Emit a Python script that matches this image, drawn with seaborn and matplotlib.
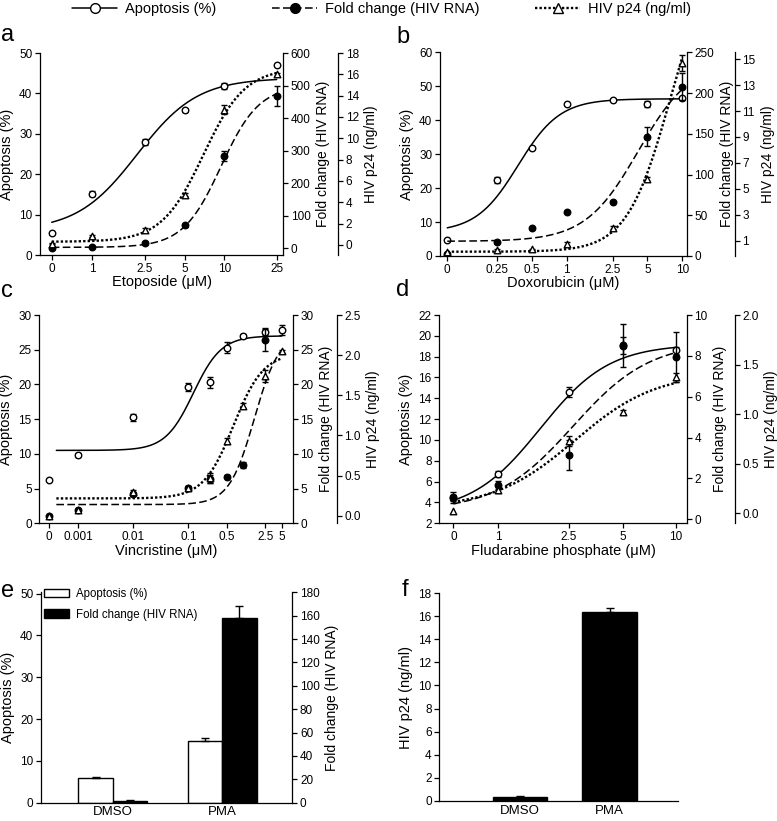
import numpy as np
import pandas as pd
import matplotlib
matplotlib.use("Agg")
import matplotlib.pyplot as plt
import seaborn as sns
from matplotlib.lines import Line2D
from matplotlib.patches import Patch

sns.set_theme(style="ticks", rc={"axes.edgecolor": "black", "xtick.color": "black",
                                 "ytick.color": "black", "text.color": "black",
                                 "axes.labelcolor": "black", "axes.linewidth": 0.9})
plt.rcParams["font.family"] = ["Liberation Sans", "DejaVu Sans"]

nan = np.nan

# ---------------- data ----------------
# a: etoposide
a_dose = [0, 1, 2.5, 5, 10, 25]
a_apop = [5.5, 15.2, 28.0, 35.8, 41.8, 47.1]
a_apop_err = [0.3, 0.6, 0.7, 0.4, 0.8, 0.3]
a_fold = [1, 3, 15, 70, 282, 467]
a_fold_err = [0, 0, 2, 4, 15, 30]
a_p24 = [0.1, 0.85, 1.4, 4.7, 12.7, 16.0]
a_p24_err = [0.05, 0.1, 0.15, 0.15, 0.4, 0.15]
# fitted curves: bottom, top, logEC50, hill slope
a_fit_apop = [6, 43.8, 0.34, 1.9]
a_fit_fold = [2, 500, 0.976, 3.0]
a_fit_p24 = [0.3, 16.6, 0.842, 2.74]

# b: doxorubicin
b_dose = [0, 0.25, 0.5, 1, 2.5, 5, 10]
b_apop = [4.7, 22.4, 31.9, 44.7, 46.0, 44.8, 46.5]
b_apop_err = [0.2, 0.8, 0.3, 0.3, 0.2, 0.8, 0]
b_fold = [2, 17.6, 34, 53.6, 66.7, 146.5, 208]
b_fold_err = [0, 0, 0, 0, 0, 12, 16]
b_p24 = [0.1, 0.28, 0.33, 0.72, 2.0, 5.76, 14.7]
b_p24_err = [0, 0.05, 0.05, 0.15, 0.1, 0.15, 0.6]
b_fit_apop = [7, 46.3, -0.42, 2.4]
b_fit_fold = [18, 240, 0.62, 1.9]
b_fit_p24 = [0.15, 24, 0.9, 2.3]

# c: vincristine
c_dose = [0, 0.001, 0.01, 0.1, 0.25, 0.5, 1, 2.5, 5]
c_tick_dose = [0, 0.001, 0.01, 0.1, 0.5, 2.5, 5]
c_apop = [6.2, 9.8, 15.3, 19.6, 20.3, 25.3, 27.0, 27.6, 27.8]
c_apop_err = [0, 0.3, 0.5, 0.6, 0.8, 0.8, 0.3, 0.5, 0.7]
c_fold = [1.1, 1.9, 4.2, 5.1, 6.4, 6.7, 8.4, 26.4, nan]
c_fold_err = [0, 0, 0.3, 0.3, 0.6, 0.2, 0.4, 1.6, 0]
c_p24 = [0.0, 0.07, 0.29, 0.35, 0.47, 0.93, 1.37, 1.74, 2.05]
c_p24_err = [0, 0, 0.03, 0.02, 0.06, 0.04, 0.03, 0.08, 0.02]
c_fit_apop = [10.5, 27.0, -0.909, 1.71]
c_fit_fold = [2.7, 27.5, 0.2, 1.9]
c_fit_p24 = [0.215, 2.03, -0.18, 1.59]

# d: fludarabine phosphate
d_dose = [0, 1, 2.5, 5, 10]
d_apop = [4.5, 6.74, 14.6, 19.1, 18.6]
d_apop_err = [0.55, 0.3, 0.5, 0.8, 0.3]
d_fold = [1.06, 1.68, 3.15, 8.5, 7.93]
d_fold_err = [0.15, 0.2, 0.75, 1.06, 1.22]
d_p24 = [0.02, 0.24, 0.73, 1.02, 1.37]
d_p24_err = [0, 0.03, 0.05, 0.02, 0.05]
d_fit_apop = [3, 19.2, 0.236, 2.24]
d_fit_fold = [0.4, 8.7, 0.42, 2.0]
d_fit_p24 = [0.05, 1.42, 0.43, 1.9]

# e / f: DMSO vs PMA
e_groups = ["DMSO", "PMA"]
e_series = ["Apoptosis (%)", "Fold change (HIV RNA)"]
e_apop = [5.9, 14.7]
e_apop_err = [0.25, 0.8]
e_fold = [1.7, 158]
e_fold_err = [0.3, 10.5]
f_p24 = [0.35, 16.35]
f_p24_err = [0.1, 0.4]

labels = ["Apoptosis (%)", "Fold change (HIV RNA)", "HIV p24 (ng/ml)"]

# ---------------- helpers ----------------
W, H = 777, 821
fig = plt.figure(figsize=(W / 100, H / 100), dpi=100)


def rect(l, t, r, b):
    return [l / W, 1 - b / H, (r - l) / W, (b - t) / H]


def logistic(x, p):
    b, t, m, h = p
    return b + (t - b) / (1 + 10 ** ((m - x) * h))


def xpos(doses, zero):
    return np.array([zero if d == 0 else np.log10(d) for d in doses])


def fmt_dose(d):
    return "{:g}".format(d)


def bar_errors(ax, err, cap=3):
    # error bars (upper side only) on top of the drawn bars
    bars = [p for cont in ax.containers for p in cont if np.isfinite(p.get_height())]
    if len(bars) != len(err):
        return
    cx = [p.get_x() + p.get_width() / 2 for p in bars]
    hy = [p.get_height() for p in bars]
    ax.errorbar(cx, hy, yerr=[[0] * len(err), err], fmt="none", ecolor="black",
                elinewidth=1, capsize=cap, capthick=1)


STYLES = [
    dict(ls="-", lw=1.1, marker="o", fc="white"),
    dict(ls=(0, (5, 2.2)), lw=1.1, marker="o", fc="black"),
    dict(ls=(0, (1, 0.9)), lw=1.7, marker="^", fc="white"),
]


def dose_panel(box, dose, tick_dose, zero, xlim, curve_from, data, fits, ylims,
               yticks, yfmts, offset_px, xlabel):
    ax = fig.add_axes(rect(*box))
    ax2 = ax.twinx()
    ax3 = ax.twinx()
    axs = [ax, ax2, ax3]
    x = xpos(dose, zero)
    xs = np.linspace(curve_from, x.max(), 300)
    for a_, (vals, errs), fit, st in zip(axs, data, fits, STYLES):
        sns.lineplot(x=xs, y=logistic(xs, fit), ax=a_, color="black",
                     lw=st["lw"], linestyle=st["ls"])
        v = np.array(vals, float)
        e = np.array(errs, float)
        ok = ~np.isnan(v)
        has = ok & (e > 0)
        a_.errorbar(x[has], v[has], yerr=e[has], fmt="none", ecolor="black",
                    elinewidth=1, capsize=2.5, capthick=1, zorder=3)
        sns.scatterplot(x=x[ok], y=v[ok], ax=a_, marker=st["marker"],
                        color=st["fc"], edgecolor="black", linewidth=1,
                        s=22, zorder=4)
    ax.set_xlim(xlim)
    ax.set_xticks(xpos(tick_dose, zero))
    ax.set_xticklabels([fmt_dose(d) for d in tick_dose])
    for a_, lim, tk, fm, lab in zip(axs, ylims, yticks, yfmts, labels):
        a_.set_ylim(lim)
        a_.set_yticks(tk)
        a_.set_yticklabels([fm.format(t) for t in tk])
        a_.set_ylabel(lab, fontsize=10.5 if a_ is ax else 10)
        a_.tick_params(labelsize=8.5, length=3.5, width=0.9, pad=2)
    ax.spines[["top", "right"]].set_visible(False)
    for a_ in (ax2, ax3):
        a_.spines[["top", "left", "bottom"]].set_visible(False)
    # outward offset is given in points
    ax3.spines["right"].set_position(("outward", offset_px * 72 / 100))
    ax.set_xlabel(xlabel, fontsize=10.5, labelpad=0.5)
    return ax


dose_panel((40, 53, 283, 255), a_dose, a_dose, -0.308, (-0.397, 1.446), -0.308,
           [(a_apop, a_apop_err), (a_fold, a_fold_err), (a_p24, a_p24_err)],
           [a_fit_apop, a_fit_fold, a_fit_p24],
           [(0, 50), (-21.5, 600), (-0.94, 18)],
           [range(0, 51, 10), range(0, 601, 100), range(0, 19, 2)],
           ["{:d}", "{:d}", "{:d}"], 55, "Etoposide (\u03bcM)")

dose_panel((440, 52.3, 686.7, 256), b_dose, b_dose, -1.031, (-1.094, 1.038), -1.031,
           [(b_apop, b_apop_err), (b_fold, b_fold_err), (b_p24, b_p24_err)],
           [b_fit_apop, b_fit_fold, b_fit_p24],
           [(0, 60), (0, 250), (-0.18, 15.53)],
           [range(0, 61, 10), range(0, 251, 50), range(1, 16, 2)],
           ["{:d}", "{:d}", "{:d}"], 48, "Doxorubicin (\u03bcM)")

dose_panel((39.3, 315, 292.7, 523.3), c_dose, c_tick_dose, -3.53, (-3.71, 0.897), -3.4,
           [(c_apop, c_apop_err), (c_fold, c_fold_err), (c_p24, c_p24_err)],
           [c_fit_apop, c_fit_fold, c_fit_p24],
           [(0, 30), (0, 30), (-0.095, 2.5)],
           [range(0, 31, 5), range(0, 31, 5), np.arange(0, 2.51, 0.5)],
           ["{:d}", "{:d}", "{:.1f}"], 44, "Vincristine (\u03bcM)")

dose_panel((439.3, 315, 686.7, 523.3), d_dose, d_dose, -0.253, (-0.332, 1.06), -0.253,
           [(d_apop, d_apop_err), (d_fold, d_fold_err), (d_p24, d_p24_err)],
           [d_fit_apop, d_fit_fold, d_fit_p24],
           [(2, 22), (-0.196, 10), (-0.1, 2.0)],
           [range(2, 23, 2), range(0, 11, 2), np.arange(0, 2.01, 0.5)],
           ["{:d}", "{:d}", "{:.1f}"], 48, "Fludarabine phosphate (\u03bcM)")

# ---------------- panel e ----------------
axe = fig.add_axes(rect(41, 592.3, 292.3, 802.7))
axe2 = axe.twinx()
df_e = pd.DataFrame({
    "group": e_groups * 2,
    "series": [e_series[0]] * 2 + [e_series[1]] * 2,
    "apop": e_apop + [nan, nan],
    "fold": [nan, nan] + e_fold,
})
for a_, col, err in ((axe, "apop", e_apop_err), (axe2, "fold", e_fold_err)):
    sns.barplot(data=df_e, x="group", y=col, hue="series", hue_order=e_series,
                palette=["white", "black"], edgecolor="black", linewidth=1,
                width=0.63, errorbar=None, legend=False, ax=a_)
    bar_errors(a_, err)
axe.set_xlim(-0.656, 1.64)
axe.set_ylim(0, 50.3)
axe.set_yticks(range(0, 51, 10))
axe2.set_ylim(0, 180)
axe2.set_yticks(range(0, 181, 20))
axe.set_ylabel("Apoptosis (%)", fontsize=10.5)
axe2.set_ylabel("Fold change (HIV RNA)", fontsize=10)
axe.set_xlabel("")
axe2.set_xlabel("")
axe.spines[["top", "right"]].set_visible(False)
axe2.spines[["top", "left", "bottom"]].set_visible(False)
for a_ in (axe, axe2):
    a_.tick_params(axis="y", labelsize=8.5, length=3.5, width=0.9, pad=2)
axe.tick_params(axis="x", labelsize=9.5, length=0, pad=2.5)
axe.legend(handles=[Patch(facecolor="white", edgecolor="black", label=e_series[0]),
                    Patch(facecolor="black", edgecolor="black", label=e_series[1])],
           loc="upper left", bbox_to_anchor=(0.01, 1.02), frameon=False, fontsize=8.3,
           handlelength=2.2, handleheight=0.8, handletextpad=0.6, borderpad=0,
           borderaxespad=0, labelspacing=0.75)

# ---------------- panel f ----------------
axf = fig.add_axes(rect(439.3, 593.3, 678.3, 800.7))
sns.barplot(x=e_groups, y=f_p24, color="black", edgecolor="black", linewidth=1,
            width=0.61, errorbar=None, ax=axf)
bar_errors(axf, f_p24_err)
axf.set_xlim(-0.9, 1.765)
axf.set_ylim(0, 18)
axf.set_yticks(range(0, 19, 2))
axf.set_ylabel("HIV p24 (ng/ml)", fontsize=10.5)
axf.spines[["top", "right"]].set_visible(False)
axf.tick_params(axis="y", labelsize=8.5, length=3.5, width=0.9, pad=2)
axf.tick_params(axis="x", labelsize=9.5, length=0, pad=3)

# ---------------- panel letters and shared legend ----------------
for letter, lx, ly in (("a", 1, 35), ("b", 396, 37), ("c", 1, 291),
                       ("d", 396, 290), ("e", 1, 591), ("f", 402, 590)):
    fig.text(lx / W, 1 - ly / H, letter, fontsize=17, va="center", ha="left")

handles = [Line2D([0], [0], color="black", lw=st["lw"], ls=st["ls"], marker=st["marker"],
                  mfc=st["fc"], mec="black", ms=7, mew=1) for st in STYLES]
fig.legend(handles, labels, loc="upper left", bbox_to_anchor=(72 / W, 1 - 2 / H), ncol=3,
           frameon=False, fontsize=10.5, handlelength=3.1, handletextpad=0.55,
           columnspacing=3.8, borderpad=0, borderaxespad=0)

fig.savefig("out.png", dpi=100)
